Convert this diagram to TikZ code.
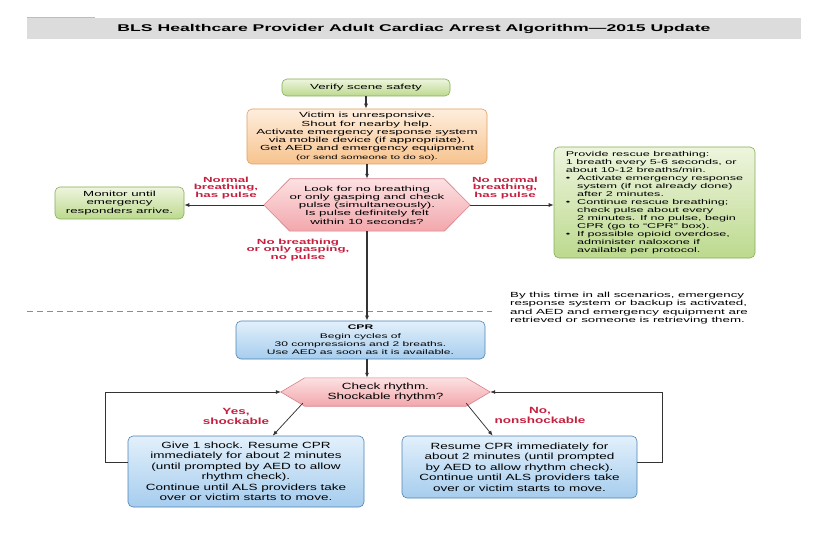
\documentclass[tikz,border=0pt]{standalone}
\usepackage{fontspec}
\setmainfont{Liberation Sans}
\newfontfamily\fA[FakeStretch=1.8]{Liberation Sans}
\newfontfamily\fB[FakeStretch=1.5]{Liberation Sans}
\usetikzlibrary{arrows.meta,calc}
\pgfdeclarelayer{bg}
\pgfsetlayers{bg,main}
\definecolor{tgray}{HTML}{DCDCDC}
\definecolor{accent}{HTML}{D9B98C}
\definecolor{gtop}{HTML}{EEF5DE}
\definecolor{gbot}{HTML}{BCD98E}
\definecolor{gdraw}{HTML}{86AE58}
\definecolor{otop}{HTML}{FEEEDD}
\definecolor{obot}{HTML}{F7C38E}
\definecolor{odraw}{HTML}{E0A060}
\definecolor{ptop}{HTML}{FCE1E2}
\definecolor{pbot}{HTML}{F2A7AC}
\definecolor{pdraw}{HTML}{D8808A}
\definecolor{btop}{HTML}{E2F0FB}
\definecolor{bbot}{HTML}{A6CDEE}
\definecolor{bdraw}{HTML}{4D84B5}
\definecolor{lred}{HTML}{C41F3E}
\definecolor{lcol}{HTML}{333333}
\definecolor{dashc}{HTML}{8C8C8C}
\begin{document}
\begin{tikzpicture}[x=1pt,y=-1pt,
  boxbase/.style={line width=0.6pt, rounded corners=5pt, inner sep=0pt, align=center},
  greenbox/.style={boxbase, draw=gdraw, top color=gtop, bottom color=gbot},
  orangebox/.style={boxbase, draw=odraw, top color=otop, bottom color=obot},
  bluebox/.style={boxbase, draw=bdraw, top color=btop, bottom color=bbot},
  hexshape/.style={draw=pdraw, line width=0.6pt, top color=ptop, bottom color=pbot},
  hextext/.style={inner sep=0pt, align=center},
  topfont/.style={font=\fA\fontsize{7.4}{8.3}\selectfont},
  botfont/.style={font=\fB\fontsize{9}{10.5}\selectfont},
  redlab/.style={text=lred, align=center, font=\fA\bfseries\fontsize{7.4}{7.6}\selectfont},
  redlabB/.style={text=lred, align=center, font=\fB\bfseries\fontsize{9}{10}\selectfont},
  spine/.style={draw=lcol, line width=1.3pt},
  thin/.style={draw=lcol, line width=0.75pt},
  arr/.style={-{Latex[length=5pt,width=4pt]}}
]
\useasboundingbox (0,0) rectangle (822,540);

% title bar
\fill[tgray] (27,18) rectangle (801,39);
\draw[accent, line width=1.2pt] (27,17.4) -- (95,17.4);
\node[inner sep=0pt, font=\fA\bfseries\fontsize{9.8}{11}\selectfont] (title) at (414,28.5)
  {BLS Healthcare Provider Adult Cardiac Arrest Algorithm—2015 Update};

% top flow
\node[greenbox, topfont, minimum width=168, minimum height=17] (verify) at (366,87.5) {Verify scene safety};
\node[orangebox, topfont, minimum width=240, minimum height=55] (victim) at (367,136.5)
  {Victim is unresponsive.\\Shout for nearby help.\\Activate emergency response system\\via mobile device (if appropriate).\\Get AED and emergency equipment\\{\fontsize{6.3}{7.4}\selectfont (or send someone to do so).}};

\node[hextext, topfont, minimum width=206, minimum height=52] (look) at (367,205)
  {Look for no breathing\\or only gasping and check\\pulse (simultaneously).\\Is pulse definitely felt\\within 10 seconds?};

\node[greenbox, topfont, minimum width=129, minimum height=32] (monitor) at (119.5,203)
  {Monitor until\\emergency\\responders arrive.};

\node[greenbox, font=\fA\fontsize{7}{8}\selectfont, minimum width=201, minimum height=111] (rescue) at (654.5,202.5)
  {\begin{tabular}{@{}l@{}}
  Provide rescue breathing:\\
  1 breath every 5-6 seconds, or\\
  about 10-12 breaths/min.\\
  \textbullet\ \ Activate emergency response\\
  \hphantom{\textbullet\ \ }system (if not already done)\\
  \hphantom{\textbullet\ \ }after 2 minutes.\\
  \textbullet\ \ Continue rescue breathing;\\
  \hphantom{\textbullet\ \ }check pulse about every\\
  \hphantom{\textbullet\ \ }2 minutes. If no pulse, begin\\
  \hphantom{\textbullet\ \ }CPR (go to “CPR” box).\\
  \textbullet\ \ If possible opioid overdose,\\
  \hphantom{\textbullet\ \ }administer naloxone if\\
  \hphantom{\textbullet\ \ }available per protocol.
  \end{tabular}};

\node[redlab] (lab1) at (226,188) {Normal\\breathing,\\has pulse};
\node[redlab] (lab2) at (505,188) {No normal\\breathing,\\has pulse};
\node[redlab] (lab3) at (298,250) {No breathing\\or only gasping,\\no pulse};

% dashed divider and note
\coordinate (dashA) at (27,311);
\coordinate (dashB) at (492,311);
\draw[dashc, line width=0.7pt, dash pattern=on 6pt off 4pt] (dashA) -- (dashB);
\node[topfont, align=left, anchor=west, inner sep=0pt] (note) at (510,308)
  {By this time in all scenarios, emergency\\response system or backup is activated,\\and AED and emergency equipment are\\retrieved or someone is retrieving them.};

\node[bluebox, font=\fA\fontsize{6.7}{8.3}\selectfont, minimum width=249, minimum height=38] (cpr) at (360.5,340)
  {\textbf{CPR}\\Begin cycles of\\30 compressions and 2 breaths.\\Use AED as soon as it is available.};

% bottom
\node[hextext, botfont, minimum width=209, minimum height=28] (rhythm) at (385.5,392)
  {Check rhythm.\\Shockable rhythm?};

\node[bluebox, botfont, minimum width=236, minimum height=71] (shock) at (246,471.5)
  {Give 1 shock. Resume CPR\\immediately for about 2 minutes\\(until prompted by AED to allow\\rhythm check).\\Continue until ALS providers take\\over or victim starts to move.};
\node[bluebox, botfont, minimum width=235, minimum height=62] (noshock) at (519.5,467)
  {Resume CPR immediately for\\about 2 minutes (until prompted\\by AED to allow rhythm check).\\Continue until ALS providers take\\over or victim starts to move.};

\node[redlabB] (lab4) at (236,416) {Yes,\\shockable};
\node[redlabB] (lab5) at (540,415) {No,\\nonshockable};

% hexagon backgrounds
\begin{pgfonlayer}{bg}
\path[hexshape] (look.west) -- ($(look.north west)+(26,0)$) -- ($(look.north east)+(-26,0)$) -- (look.east)
  -- ($(look.south east)+(-26,0)$) -- ($(look.south west)+(26,0)$) -- cycle;
\path[hexshape] (rhythm.west) -- ($(rhythm.north west)+(24,0)$) -- ($(rhythm.north east)+(-24,0)$) -- (rhythm.east)
  -- ($(rhythm.south east)+(-24,0)$) -- ($(rhythm.south west)+(24,0)$) -- cycle;
\end{pgfonlayer}

% connectors
\draw[spine, arr] (verify.south) -- (verify.south |- victim.north);
\draw[spine, arr] (victim.south) -- (victim.south |- look.north);
\draw[spine, arr] (look.south) -- (look.south |- cpr.north);
\draw[spine, arr] (look.south |- cpr.south) -- (look.south |- rhythm.north);
\draw[thin, arr] (look.west) -- (look.west -| monitor.east);
\draw[thin, arr] (look.east) -- (look.east -| rescue.west);

\coordinate (ys) at ($(rhythm.south west)+(22,-3)$);
\coordinate (ye) at ($(shock.north west)+(145,0)$);
\coordinate (ns) at ($(rhythm.south east)+(-24,-3)$);
\coordinate (ne) at ($(noshock.north west)+(91,0)$);
\draw[thin, arr] (ys) -- (ye);
\draw[thin, arr] (ns) -- (ne);

\coordinate (lloop) at ($(shock.west)+(0,-9.5)$);
\coordinate (rloop) at ($(noshock.east)+(0,-5)$);
\draw[thin, arr] (lloop) -- ++(-22,0) |- (rhythm.west);
\draw[thin, arr] (rloop) -- ++(25,0) |- (rhythm.east);
\end{tikzpicture}
\end{document}
